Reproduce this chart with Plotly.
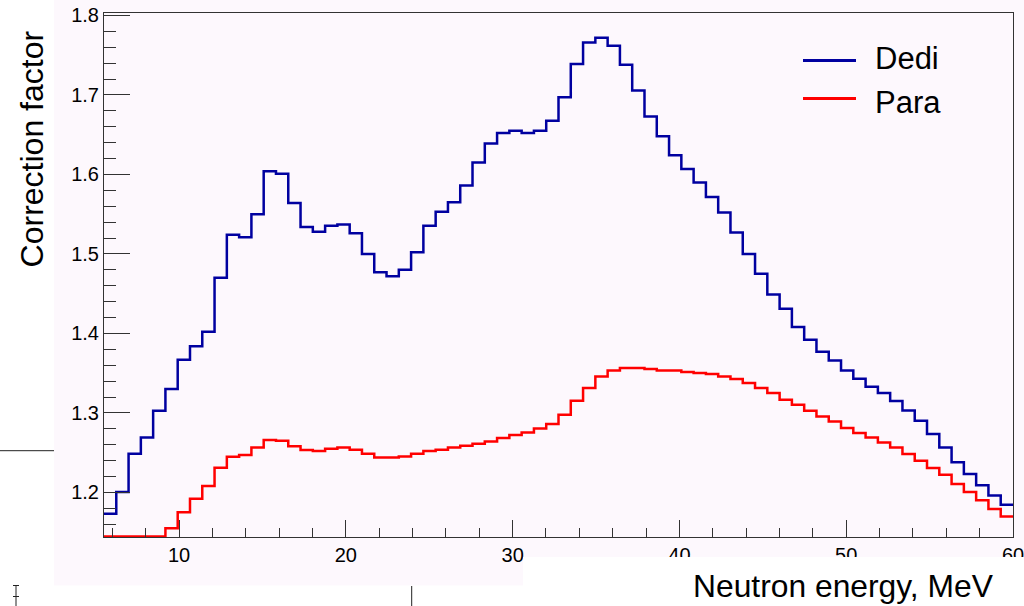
import numpy as np
import plotly.graph_objects as go

# ---------------- data ----------------
e_min, e_max, n_bins = 5.5, 60.0, 74          # histogram definition (MeV)
series_names = ["Dedi", "Para"]
dedi = [1.173, 1.2005, 1.2487, 1.269, 1.3028, 1.330, 1.367, 1.384, 1.402, 1.470,
        1.524, 1.521, 1.550, 1.604, 1.601, 1.564, 1.534, 1.528, 1.5355, 1.537,
        1.526, 1.500, 1.477, 1.472, 1.480, 1.502, 1.5355, 1.553, 1.565, 1.586,
        1.615, 1.639, 1.652, 1.655, 1.652, 1.655, 1.6675, 1.697, 1.739, 1.766,
        1.772, 1.762, 1.738, 1.7055, 1.673, 1.648, 1.624, 1.607, 1.590, 1.5716,
        1.552, 1.527, 1.500, 1.475, 1.449, 1.431, 1.408, 1.392, 1.377, 1.366,
        1.3535, 1.343, 1.333, 1.325, 1.315, 1.303, 1.290, 1.2735, 1.2566, 1.238,
        1.223, 1.209, 1.196, 1.1845]
para = [1.1445, 1.1445, 1.1445, 1.1445, 1.1445, 1.155, 1.175, 1.192, 1.208, 1.231,
        1.245, 1.247, 1.2566, 1.266, 1.265, 1.258, 1.2533, 1.252, 1.255, 1.2566,
        1.2537, 1.2487, 1.244, 1.244, 1.2453, 1.2487, 1.252, 1.2537, 1.2566, 1.2587,
        1.2612, 1.2641, 1.2684, 1.2722, 1.2755, 1.2805, 1.286, 1.2977, 1.3153, 1.3313,
        1.3459, 1.3535, 1.3565, 1.3565, 1.3552, 1.3535, 1.3535, 1.3514, 1.3502, 1.3489,
        1.3459, 1.3426, 1.3376, 1.3313, 1.325, 1.3166, 1.3103, 1.3028, 1.2956, 1.2893,
        1.281, 1.2747, 1.2692, 1.2629, 1.2566, 1.2483, 1.2399, 1.2307, 1.2223, 1.2106,
        1.2005, 1.19, 1.1791, 1.1698]
x_ticks = [10, 20, 30, 40, 50, 60]
y_ticks = [1.2, 1.3, 1.4, 1.5, 1.6, 1.7, 1.8]
y_tick_text = ["1.2", "1.3", "1.4", "1.5", "1.6", "1.7", "1.8"]
y_range = [1.1439, 1.8031]

# ---------------- styling ----------------
PINK = "#fdf8fd"
BLUE = "#0000a0"
RED = "#ff0000"
AX = "#333333"
FONT = "Liberation Sans, Arial, Helvetica, sans-serif"

W, H = 1024, 606
L, R, T, B = 104, 1013, 13, 537   # plot frame in pixels


def px(x):
    return (x - L) / (R - L)


def py(y):
    return (B - y) / (B - T)


edges = np.linspace(e_min, e_max, n_bins + 1)

fig = go.Figure()
for name, vals, col in [(series_names[0], dedi, BLUE), (series_names[1], para, RED)]:
    fig.add_trace(go.Scatter(
        x=edges, y=list(vals) + [vals[-1]], mode="lines", name=name,
        line=dict(color=col, width=2.5, shape="hv"),
        showlegend=False, hoverinfo="skip"))

fig.update_layout(
    width=W, height=H, autosize=False,
    margin=dict(l=L, r=W - R, t=T, b=H - B, pad=0, autoexpand=False),
    paper_bgcolor=PINK, plot_bgcolor=PINK,
    font=dict(family=FONT, size=20, color="black"),
    showlegend=False,
)
fig.update_xaxes(
    range=[e_min, e_max], tickmode="array", tickvals=x_ticks, automargin=False,
    ticklabeloverflow="allow",
    ticks="inside", ticklen=17, tickwidth=1, tickcolor=AX,
    minor=dict(dtick=2, tick0=0, ticks="inside", ticklen=9, tickwidth=1, tickcolor=AX),
    showline=True, linecolor=AX, linewidth=1, mirror=True,
    showgrid=False, zeroline=False, tickfont=dict(size=20, family=FONT),
)
fig.update_yaxes(
    range=y_range, tickmode="array", tickvals=y_ticks, ticktext=y_tick_text, automargin=False,
    ticklabeloverflow="allow",
    ticks="inside", ticklen=26, tickwidth=1, tickcolor=AX,
    minor=dict(dtick=0.02, tick0=1.2, ticks="inside", ticklen=12, tickwidth=1, tickcolor=AX),
    showline=True, linecolor=AX, linewidth=1, mirror=True,
    showgrid=False, zeroline=False, tickfont=dict(size=20, family=FONT),
)

shapes = []


def rect(x0, y0, x1, y1, color="white"):
    shapes.append(dict(type="rect", xref="paper", yref="paper", layer="above",
                       x0=px(x0), x1=px(x1), y0=py(y1), y1=py(y0),
                       fillcolor=color, line=dict(width=0)))


def seg(x0, y0, x1, y1, color="#222222", width=1):
    shapes.append(dict(type="line", xref="paper", yref="paper", layer="above",
                       x0=px(x0), x1=px(x1), y0=py(y0), y1=py(y1),
                       line=dict(color=color, width=width)))


# white areas around the pad
rect(0, 0, 54, 606)
rect(54, 585.5, 523, 606)
rect(523, 557, 1024, 606)
# stray strokes from neighbouring pads
seg(0, 450.7, 54, 450.7)
seg(411.7, 586, 411.7, 606)
seg(13, 585.5, 19, 585.5)
seg(16, 585.5, 16, 606)
seg(13, 596.5, 19, 596.5)
# legend samples
seg(803, 60.5, 856, 60.5, BLUE, 3)
seg(803, 98.5, 856, 98.5, RED, 3)
fig.update_layout(shapes=shapes)

ann = [
    dict(text="Correction factor", x=px(32.4), y=py(149), textangle=-90,
         xanchor="center", yanchor="middle", font=dict(size=32)),
    dict(text="Neutron energy, MeV", x=px(996), y=py(585.5),
         xanchor="right", yanchor="middle", font=dict(size=31.8)),
    dict(text=series_names[0], x=px(873), y=py(58), xanchor="left", yanchor="middle",
         font=dict(size=31)),
    dict(text=series_names[1], x=px(873), y=py(102), xanchor="left", yanchor="middle",
         font=dict(size=31)),
]
for a in ann:
    a.update(xref="paper", yref="paper", showarrow=False)
    a["font"].update(family=FONT, color="black")
fig.update_layout(annotations=ann)

fig.write_html("out.html")
